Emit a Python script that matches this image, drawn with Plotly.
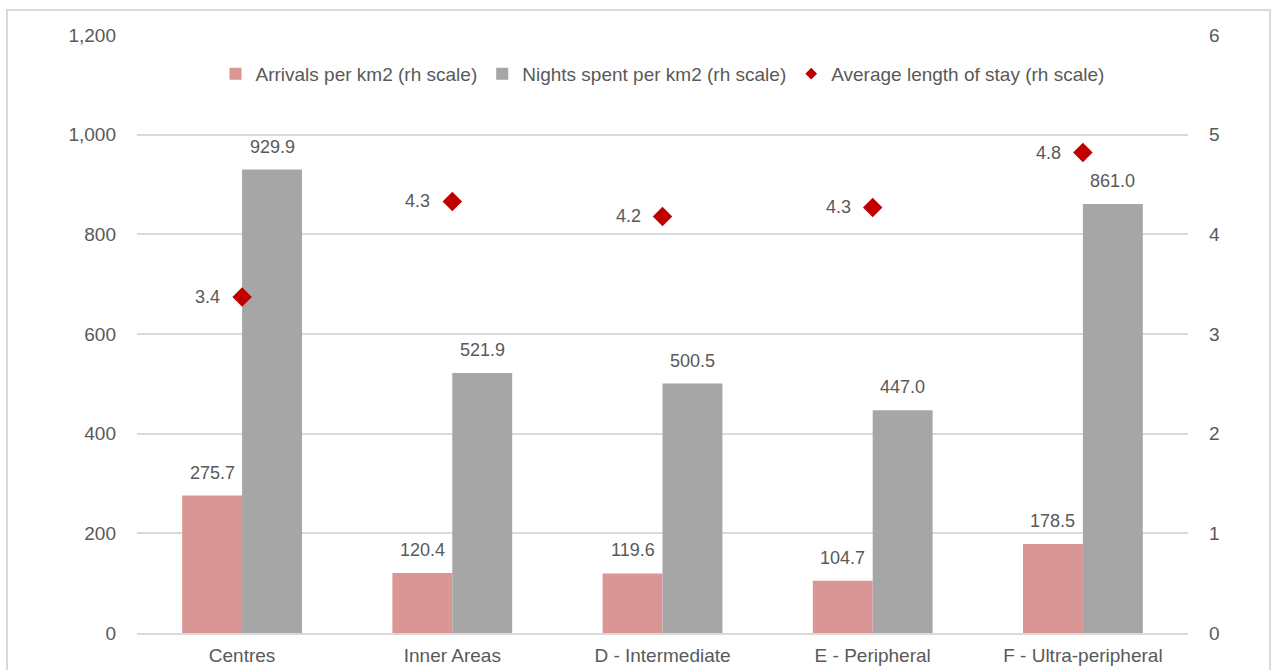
import plotly.graph_objects as go

categories = ["Centres", "Inner Areas", "D - Intermediate", "E - Peripheral", "F - Ultra-peripheral"]
arrivals = [275.7, 120.4, 119.6, 104.7, 178.5]
nights = [929.9, 521.9, 500.5, 447.0, 861.0]
avg_stay = [3.37, 4.33, 4.18, 4.27, 4.82]

left_ticks = [0, 200, 400, 600, 800, 1000, 1200]
right_ticks = [0, 1, 2, 3, 4, 5, 6]

FONT = "Liberation Sans"
TXT = "#595959"
GRID = "#d9d9d9"
PINK = "#d99694"
GREY = "#a6a6a6"
RED = "#c00000"

fig = go.Figure()
fig.add_trace(go.Bar(x=categories, y=arrivals, name="Arrivals per km2 (rh scale)",
                     marker=dict(color=PINK, line=dict(width=0)), yaxis="y"))
fig.add_trace(go.Bar(x=categories, y=nights, name="Nights spent per km2 (rh scale)",
                     marker=dict(color=GREY, line=dict(width=0)), yaxis="y"))
fig.add_trace(go.Scatter(x=categories, y=avg_stay, name="Average length of stay (rh scale)",
                         mode="markers", yaxis="y2", showlegend=False,
                         marker=dict(symbol="diamond", size=15, color=RED)))
# smaller diamond for the legend entry
fig.add_trace(go.Scatter(x=[None], y=[None], name="Average length of stay (rh scale)",
                         mode="markers", yaxis="y2",
                         marker=dict(symbol="diamond", size=9, color=RED)))

# value labels above each bar
for i, c in enumerate(categories):
    for vals, shift in ((arrivals, -30), (nights, 30)):
        fig.add_annotation(x=c, y=vals[i], xref="x", yref="y", text=f"{vals[i]:.1f}",
                           showarrow=False, xshift=shift, yanchor="bottom", yshift=11,
                           font=dict(family=FONT, size=18, color=TXT))
    # average stay label to the left of the diamond
    fig.add_annotation(x=c, y=avg_stay[i], xref="x", yref="y2", text=f"{avg_stay[i]:.1f}",
                       showarrow=False, xanchor="right", xshift=-20, yanchor="middle",
                       font=dict(family=FONT, size=18, color=TXT))

# outer frame
fig.add_shape(type="rect", xref="paper", yref="paper", x0=-0.1237, x1=1.078, y0=-0.3, y1=1.0418,
              line=dict(color=GRID, width=2), fillcolor="rgba(0,0,0,0)", layer="below")

fig.update_layout(
    width=1274, height=670,
    margin=dict(l=137, r=86, t=35, b=37),
    paper_bgcolor="white", plot_bgcolor="white",
    barmode="group", bargap=0.43, bargroupgap=0,
    font=dict(family=FONT, size=18, color=TXT),
    showlegend=True,
    legend=dict(orientation="h", x=0.5, xanchor="center", y=0.935, yanchor="middle",
                font=dict(family=FONT, size=19, color=TXT), itemwidth=30,
                bgcolor="rgba(0,0,0,0)"),
    xaxis=dict(showgrid=False, showline=True, linecolor=GRID, linewidth=2, automargin=False,
               ticks="", tickfont=dict(family=FONT, size=19, color=TXT), ticklabelstandoff=4),
    yaxis=dict(range=[0, 1200], tickvals=left_ticks, ticktext=[f"{v:,}" for v in left_ticks],
               showgrid=True, gridcolor=GRID, gridwidth=2, zeroline=False, showline=False,
               automargin=False, ticks="", ticklabelstandoff=20,
               tickfont=dict(family=FONT, size=19, color=TXT)),
    yaxis2=dict(range=[0, 6], tickvals=right_ticks, overlaying="y", side="right",
                showgrid=False, zeroline=False, showline=False, ticks="", automargin=False,
                ticklabelstandoff=20, tickfont=dict(family=FONT, size=19, color=TXT)),
)

fig.write_html("out.html")
